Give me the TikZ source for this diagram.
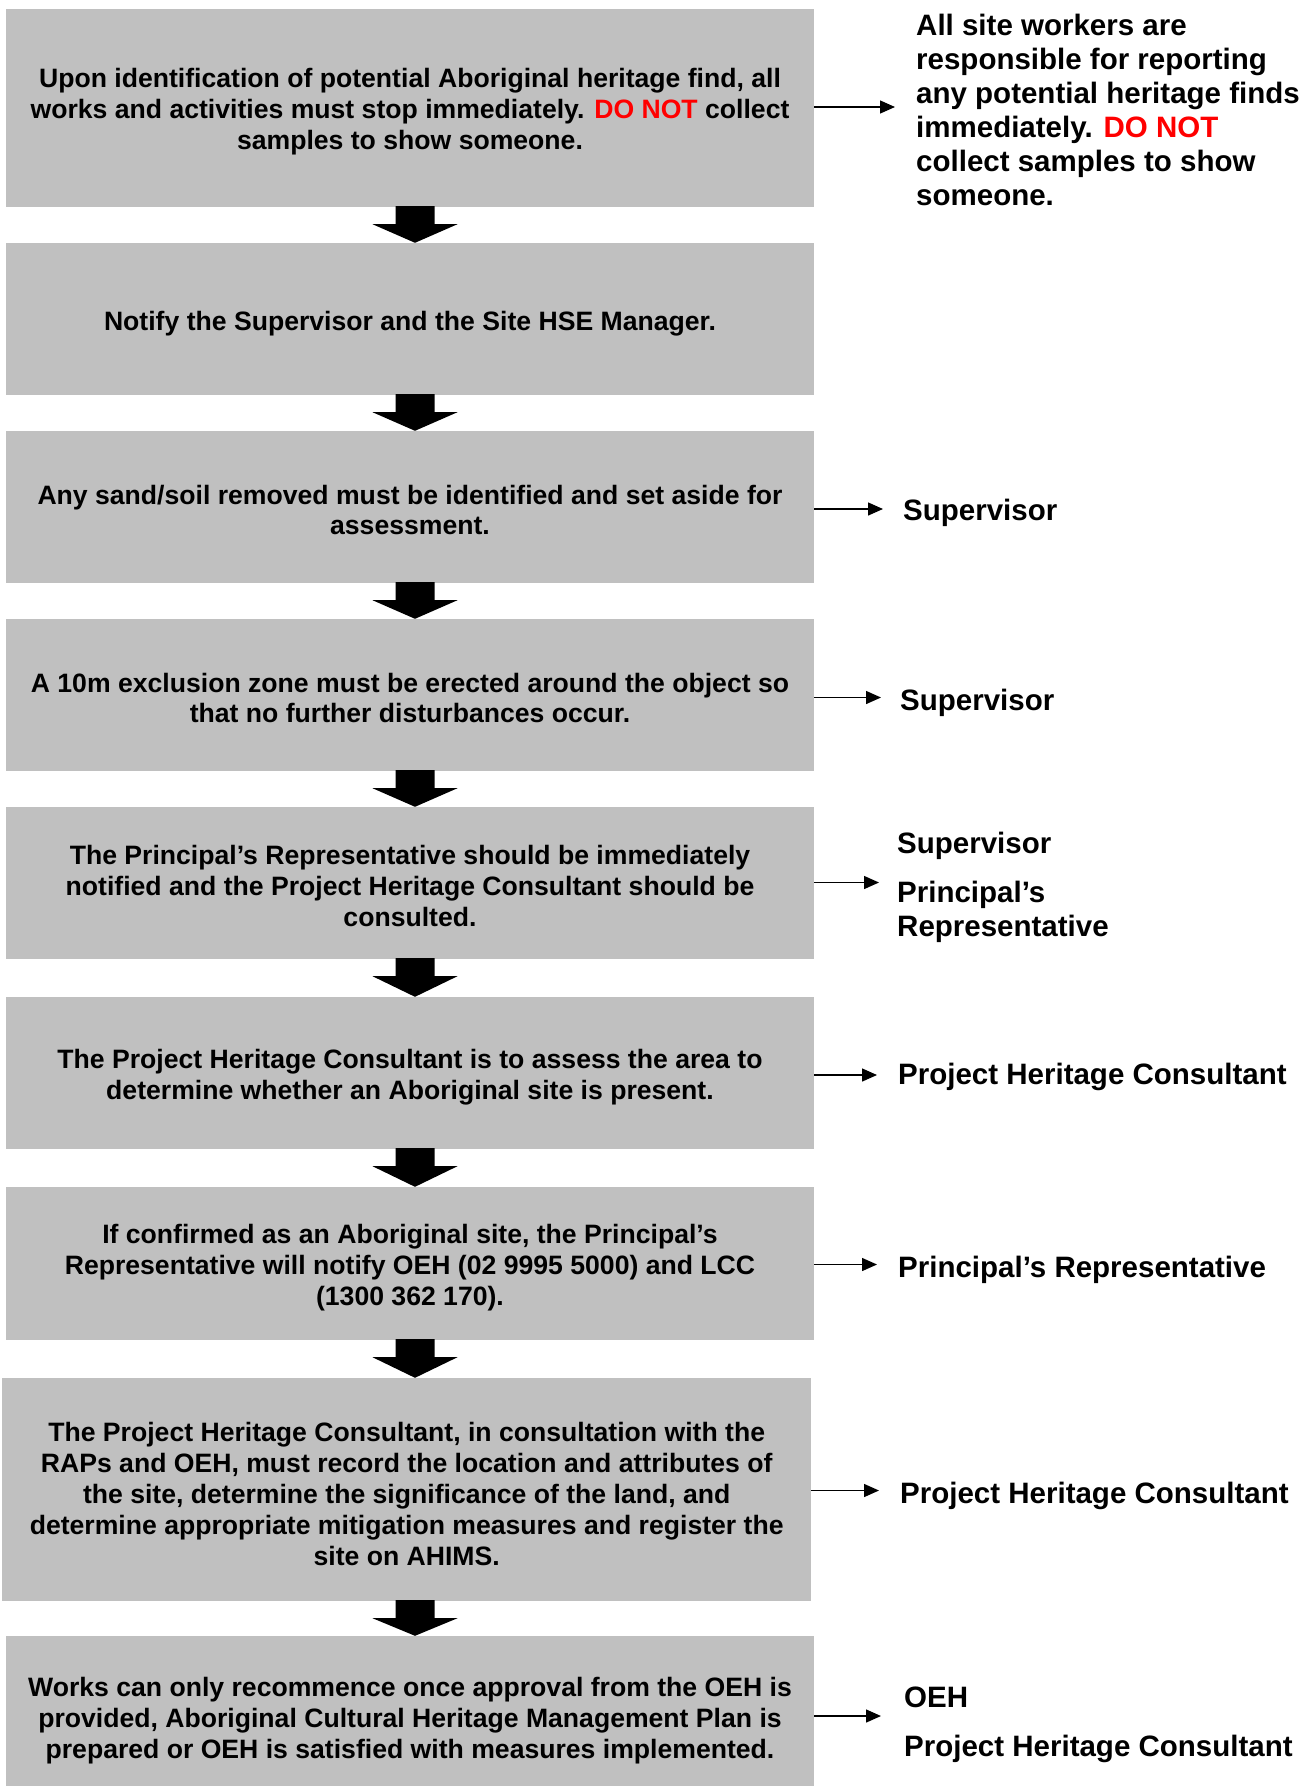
\documentclass[tikz,border=0pt]{standalone}
\usepackage{fontspec}
\setmainfont{Liberation Sans}
\usetikzlibrary{arrows.meta,calc}
\definecolor{boxgray}{RGB}{192,192,192}
\definecolor{alertred}{RGB}{255,0,0}

% thick block arrow pointing down from one step box to the next
\newcommand\flowdown[2]{%
  \fill let \p1=(#1.south), \p2=(#2.north) in
    (415pt-19.5pt,\y1+1pt) -- (415pt+19.5pt,\y1+1pt) -- (415pt+19.5pt,\y1-17pt)
    -- (415pt+42.5pt,\y1-17pt) -- (415pt,\y2) -- (415pt-42.5pt,\y1-17pt)
    -- (415pt-19.5pt,\y1-17pt) -- cycle;}

\begin{document}
\begin{tikzpicture}[x=1pt,y=-1pt,
  stepbox/.style={fill=boxgray, draw=none, inner sep=0pt, minimum width=808.3pt},
  steptext/.style={inner sep=0pt, align=center,
    font=\fontsize{26.6}{30.9}\selectfont\bfseries},
  sidelabel/.style={anchor=west, inner sep=0pt, align=left,
    font=\fontsize{29.5}{34}\selectfont\bfseries},
  sidearrow/.style={line width=1.4pt, -{Triangle[length=15pt,width=13pt]}},
]
\useasboundingbox (0,0) rectangle (1310,1786);

% step boxes
\node[stepbox, minimum height=198pt] (b1) at (410,108) {};
\node[stepbox, minimum height=152pt] (b2) at (410,319) {};
\node[stepbox, minimum height=152pt] (b3) at (410,507) {};
\node[stepbox, minimum height=152pt] (b4) at (410,695) {};
\node[stepbox, minimum height=152pt] (b5) at (410,883) {};
\node[stepbox, minimum height=152pt] (b6) at (410,1073) {};
\node[stepbox, minimum height=153pt] (b7) at (410,1263.5) {};
\node[stepbox, minimum width=808.7pt, minimum height=223pt] (b8) at (406.7,1489.5) {};
\node[stepbox, minimum height=164pt] (b9) at (410,1718) {};

% step texts
\node[steptext] (s1) at (410,111.5)
  {Upon identification of potential Aboriginal heritage find, all\\
   works and activities must stop immediately. \textcolor{alertred}{DO NOT} collect\\
   samples to show someone.};
\node[steptext] (s2) at (410,323.4)
  {Notify the Supervisor and the Site HSE Manager.};
\node[steptext] (s3) at (410,510)
  {Any sand/soil removed must be identified and set aside for\\
   assessment.};
\node[steptext] (s4) at (410,698)
  {A 10m exclusion zone must be erected around the object so\\
   that no further disturbances occur.};
\node[steptext] (s5) at (410,886)
  {The Principal’s Representative should be immediately\\
   notified and the Project Heritage Consultant should be\\
   consulted.};
\node[steptext] (s6) at (410,1077.5)
  {The Project Heritage Consultant is to assess the area to\\
   determine whether an Aboriginal site is present.};
\node[steptext] (s7) at (410,1267.5)
  {If confirmed as an Aboriginal site, the Principal’s\\
   Representative will notify OEH (02 9995 5000) and LCC\\
   (1300 362 170).};
\node[steptext] (s8) at (406.7,1494)
  {The Project Heritage Consultant, in consultation with the\\
   RAPs and OEH, must record the location and attributes of\\
   the site, determine the significance of the land, and\\
   determine appropriate mitigation measures and register the\\
   site on AHIMS.};
\node[steptext] (s9) at (410,1720.5)
  {Works can only recommence once approval from the OEH is\\
   provided, Aboriginal Cultural Heritage Management Plan is\\
   prepared or OEH is satisfied with measures implemented.};

% block arrows between steps
\flowdown{b1}{b2}
\flowdown{b2}{b3}
\flowdown{b3}{b4}
\flowdown{b4}{b5}
\flowdown{b5}{b6}
\flowdown{b6}{b7}
\flowdown{b7}{b8}
\flowdown{b8}{b9}

% responsibilities on the right
\node[sidelabel] (r1) at (916,110)
  {All site workers are\\
   responsible for reporting\\
   any potential heritage finds\\
   immediately. \textcolor{alertred}{DO NOT}\\
   collect samples to show\\
   someone.};
\node[sidelabel] (r3) at (903,512.4) {Supervisor};
\node[sidelabel] (r4) at (900,702.4) {Supervisor};
\node[sidelabel] (r5) at (897,887.7) {Supervisor\\[15pt]Principal’s\\Representative};
\node[sidelabel] (r6) at (898,1077) {Project Heritage Consultant};
\node[sidelabel] (r7) at (898,1269.7) {Principal’s Representative};
\node[sidelabel] (r8) at (900,1496.4) {Project Heritage Consultant};
\node[sidelabel] (r9) at (904,1725) {OEH\\[15pt]Project Heritage Consultant};

% arrow tips pointing at the responsible parties
\coordinate (t1) at (895,107);
\coordinate (t3) at (883,509);
\coordinate (t4) at (881,697.5);
\coordinate (t5) at (879,882.5);
\coordinate (t6) at (877,1075);
\coordinate (t7) at (877,1264.5);
\coordinate (t8) at (879,1490.5);
\coordinate (t9) at (881,1716);

\draw[sidearrow] (b1.east |- t1) -- (t1);
\draw[sidearrow] (b3.east |- t3) -- (t3);
\draw[sidearrow] (b4.east |- t4) -- (t4);
\draw[sidearrow] (b5.east |- t5) -- (t5);
\draw[sidearrow] (b6.east |- t6) -- (t6);
\draw[sidearrow] (b7.east |- t7) -- (t7);
\draw[sidearrow] (b8.east |- t8) -- (t8);
\draw[sidearrow] (b9.east |- t9) -- (t9);
\end{tikzpicture}
\end{document}
